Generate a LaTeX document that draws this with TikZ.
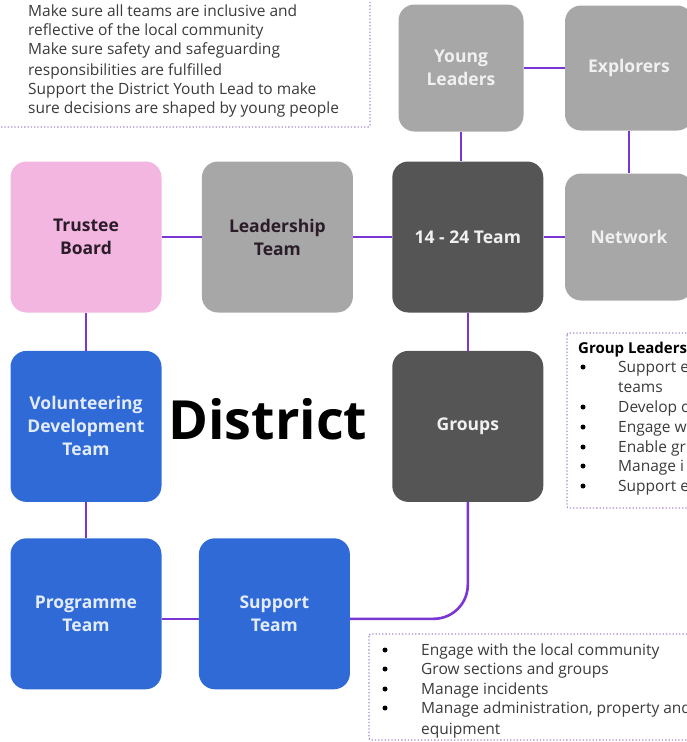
\documentclass[tikz,border=0pt]{standalone}
\usepackage{fontspec}
\setmainfont{Open Sans}
\usetikzlibrary{positioning}

\definecolor{pinkbox}{HTML}{F2B6E0}
\definecolor{greybox}{HTML}{A7A7A7}
\definecolor{darkbox}{HTML}{555555}
\definecolor{bluebox}{HTML}{2F6AD6}
\definecolor{linkpurple}{HTML}{7A35D6}
\definecolor{dotpurple}{HTML}{A58BD0}
\definecolor{notetext}{HTML}{3A3A3A}
\definecolor{darklabel}{HTML}{2A1C28}
\definecolor{lightlabel}{HTML}{F0F0F0}
\definecolor{bluelabel}{HTML}{E4ECFB}

\begin{document}
\begin{tikzpicture}[
    x=1pt, y=-1pt,
    teambox/.style={
        rectangle,
        rounded corners=16pt,
        minimum width=151pt,
        minimum height=151pt,
        fill=#1,
        inner sep=4pt,
        align=center,
        font=\fontsize{17.5}{23}\selectfont\bfseries,
        text=lightlabel,
    },
    link/.style={
        draw=linkpurple,
        line width=2.6pt,
    },
    notebox/.style={
        draw=dotpurple,
        dotted,
        line width=1.3pt,
        rounded corners=2pt,
    },
    noteline/.style={
        anchor=base west,
        inner sep=0pt,
        font=\fontsize{15.5}{18}\selectfont,
        text=notetext,
    },
    notedot/.style={
        circle,
        fill=black,
        minimum size=5pt,
        inner sep=0pt,
    },
]
\useasboundingbox (0,0) rectangle (687,742);
\clip (0,0) rectangle (687,742);

% === Note boxes ===
\draw[notebox] (-10,-10) rectangle (370,127);
\draw[notebox] (567,333) rectangle (700,508);
\draw[notebox] (369,634) rectangle (700,740);

% === Top row ===
\node[teambox=pinkbox, text=darklabel] (trustee) at (86,237) {Trustee\\Board};
\node[teambox=greybox, text=darklabel, right=40pt of trustee] (leadership) {Leadership\\Team};
\node[teambox=darkbox, right=39pt of leadership] (youth) {14 - 24 Team};
\node[teambox=greybox, minimum width=128pt, minimum height=127pt] (network) at (629,237) {Network};

% === 14 - 24 sections ===
\node[teambox=greybox, minimum width=125pt, minimum height=127pt] (young) at (461,68) {Young\\Leaders};
\node[teambox=greybox, minimum width=128pt, minimum height=125pt] (explorers) at (629,68) {Explorers};

% === Lower rows ===
\node[teambox=darkbox, below=38pt of youth] (groups) {Groups};
\node[teambox=bluebox, text=bluelabel, below=38pt of trustee] (volunteering) {Volunteering\\Development\\Team};
\node[teambox=bluebox, text=bluelabel, below=36pt of volunteering] (programme) {Programme\\Team};
\node[teambox=bluebox, text=bluelabel, right=37pt of programme] (support) {Support\\Team};

% === Title ===
\node[font=\fontsize{54}{64}\selectfont\bfseries, anchor=base, inner sep=0pt] (district) at (268,439) {District};

% === Links ===
\draw[link] (trustee) -- (leadership);
\draw[link] (leadership) -- (youth);
\draw[link] (youth) -- (network);
\draw[link] (young) -- (explorers);
\draw[link] (young.south) -- (young.south |- youth.north);
\draw[link] (explorers) -- (network);
\draw[link] (youth) -- (groups);
\draw[link] (trustee) -- (volunteering);
\draw[link] (volunteering) -- (programme);
\draw[link] ([yshift=-5pt]programme.east) -- ([yshift=-5pt]support.west);
\draw[link, rounded corners=34pt] (groups.south) |- ([yshift=-5pt]support.east);

% === Notes: top ===
\foreach \yy/\txt [count=\i] in {
    16/Make sure all teams are inclusive and,
    35/reflective of the local community,
    54/Make sure safety and safeguarding,
    75/responsibilities are fulfilled,
    94/Support the District Youth Lead to make,
    113/sure decisions are shaped by young people}
    \node[noteline] (aim\i) at (28,\yy) {\txt};

% === Notes: group leaders ===
\node[noteline, font=\fontsize{15}{18}\selectfont\bfseries, text=black] (leaders) at (578,353) {Group Leaders};
\foreach \yy/\txt [count=\i] in {
    372/Support e,
    392/teams,
    412/Develop c,
    432/Engage w,
    452/Enable gr,
    471/Manage i,
    491/Support e}
    \node[noteline] (lead\i) at (618,\yy) {\txt};
\foreach \yy [count=\i] in {372,412,432,452,471,491}
    \node[notedot] (leaddot\i) at (583,\yy-5) {};

% === Notes: bottom ===
\foreach \yy/\txt [count=\i] in {
    655/Engage with the local community,
    674/Grow sections and groups,
    694/Manage incidents,
    713/{Manage administration, property and},
    734/equipment}
    \node[noteline] (task\i) at (421,\yy) {\txt};
\foreach \yy [count=\i] in {655,674,694,713}
    \node[notedot] (taskdot\i) at (385,\yy-5) {};

\end{tikzpicture}
\end{document}
